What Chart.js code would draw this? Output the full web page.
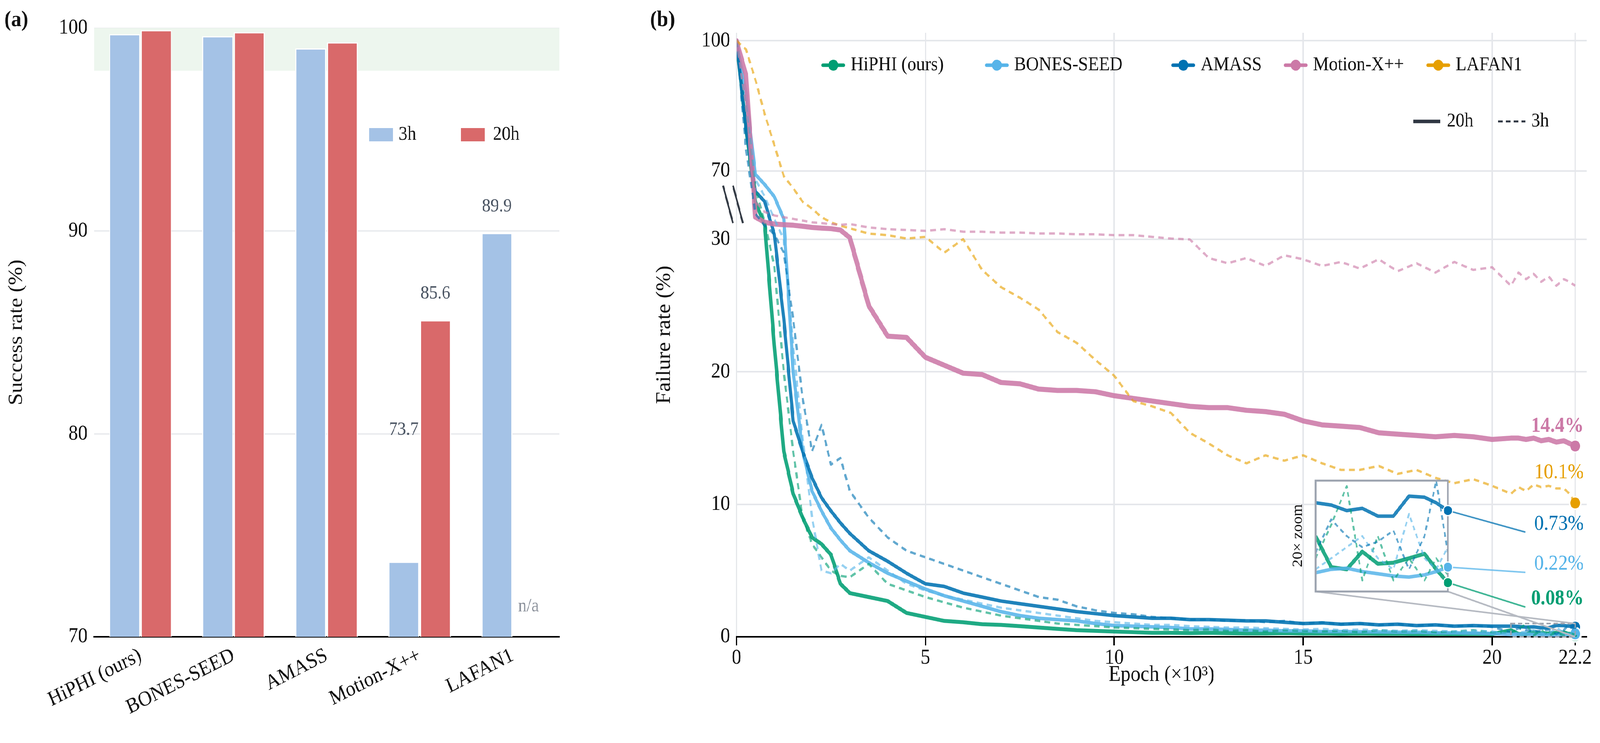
<!DOCTYPE html>
<html><head><meta charset="utf-8">
<script src="https://cdn.jsdelivr.net/npm/chart.js@4.4.1/dist/chart.umd.min.js"></script>
<style>
html,body{margin:0;padding:0;background:#fff;overflow:hidden}
#wrap{position:absolute;left:0;top:0;width:4512px;height:1903px;transform-origin:0 0}
.box{position:absolute;top:0}
</style></head><body>
<div id="wrap">
<div class="box" style="left:0;width:1640px;height:1903px"><canvas id="ca"></canvas></div>
<div class="box" style="left:1780px;width:2732px;height:1903px"><canvas id="cb"></canvas></div>
<div class="box" style="left:3680px;top:1201px;width:433px;height:344px"><canvas id="ci"></canvas></div>
</div>
<script>
(function(){const w=document.getElementById('wrap');
  const sx=window.innerWidth/4512, sy=window.innerHeight/1903;
  w.style.transform=`scale(${sx},${sy})`;})();

// ---------- Panel (a) data ----------
const datasetsA = ["HiPHI (ours)","BONES-SEED","AMASS","Motion-X++","LAFAN1"];
const success3h  = [99.7, 99.6, 99.0, 73.7, 89.9];
const success20h = [99.9, 99.8, 99.3, 85.6, null];
const yTicksA = [70, 80, 90, 100];

// ---------- Panel (b) data ----------
const epochs = [0,.25,.5,.75,1,1.25,1.5,1.75,2,2.25,2.5,2.75,3,3.5,4,4.5,5,5.5,6,6.5,7,7.5,8,8.5,9,9.5,10,10.5,11,11.5,12,12.5,13,13.5,14,14.5,15,15.5,16,16.5,17,17.5,18,18.5,19,19.5,20,20.5,20.7,20.9,21.1,21.3,21.5,21.7,21.9,22.05,22.2];
const hiphi20 = [100,80,52,38,22,14,10.8,9,7.5,7,6.2,4,3.3,3.0,2.7,1.8,1.5,1.2,1.1,0.95,0.9,0.8,0.7,0.6,0.5,0.45,0.4,0.35,0.3,0.3,0.28,0.3,0.27,0.25,0.25,0.27,0.24,0.25,0.22,0.24,0.22,0.23,0.2,0.22,0.2,0.22,0.2,0.5,0.22,0.2,0.36,0.25,0.26,0.3,0.34,0.2,0.08];
const hiphi3 = [100,85,60,40,28,20,14,9,7,6,5,4.6,4.5,5.5,4,3.5,3,2.6,2.2,1.9,1.6,1.4,1.2,1.0,0.9,0.8,0.7,0.65,0.6,0.55,0.5,0.55,0.45,0.5,0.4,0.5,0.45,0.4,0.45,0.35,0.5,0.4,0.45,0.35,0.4,0.5,0.35,0.3,0.6,0.95,0.1,0.5,0.1,0.3,0.1,0.3,0.15];
const bones20 = [100,88,68,62,55,42,20,14,11,9.5,8.2,7.3,6.5,5.6,4.8,4.2,3.6,3.1,2.7,2.3,1.9,1.6,1.4,1.3,1.2,1.0,0.85,0.8,0.75,0.7,0.6,0.6,0.55,0.5,0.5,0.45,0.45,0.4,0.4,0.38,0.37,0.35,0.35,0.3,0.3,0.28,0.25,0.17,0.2,0.21,0.18,0.16,0.14,0.13,0.15,0.18,0.22];
const bones3 = [100,85,65,55,42,30,22,15,9,5,4.8,5.5,5,6,5,4,3.5,3.1,2.8,2.5,2.2,2.0,1.8,1.6,1.4,1.2,1.1,1.0,0.9,0.9,0.8,0.75,0.7,0.7,0.65,0.6,0.55,0.6,0.5,0.55,0.5,0.45,0.5,0.45,0.4,0.45,0.4,0.2,0.3,0.4,0.5,0.3,0.2,0.7,0.3,0.2,0.4];
const amass20 = [100,80,58,52,33,24,16.3,14,12,10.5,9.5,8.6,7.8,6.5,5.7,4.8,4,3.8,3.3,3.0,2.7,2.5,2.3,2.1,1.9,1.75,1.6,1.5,1.4,1.4,1.3,1.3,1.25,1.2,1.2,1.1,1.0,1.05,0.95,1.0,0.9,0.95,0.85,0.9,0.8,0.85,0.8,0.8,0.78,0.73,0.75,0.68,0.68,0.86,0.85,0.8,0.73];
const amass3 = [100,75,45,38,33,29,24,18,14,16,13,13.5,11,9,7.5,6.5,6,5.5,5,4.5,4,3.5,3,2.8,2.3,2,1.8,1.7,1.5,1.4,1.3,1.3,1.2,1.25,1.1,1.2,1.0,1.1,0.95,1.0,0.9,0.95,0.85,0.9,0.8,0.85,0.75,0.35,0.65,0.5,0.4,0.45,0.55,0.2,0.5,1.0,0.35];
const motionx20 = [100,92,43,40,39,38.6,38.3,37.7,37,36.6,36.3,35.5,31,25,22.7,22.6,21.1,20.5,19.9,19.8,19.2,19.1,18.7,18.6,18.6,18.5,18.2,18.0,17.8,17.6,17.4,17.3,17.3,17.1,17.0,16.8,16.3,16.0,15.9,15.8,15.4,15.3,15.2,15.1,15.2,15.1,14.9,15.0,15.0,14.9,15.0,14.8,14.9,14.7,14.8,14.6,14.4];
const motionx3 = [100,85,52,46,44,43,42,41,40,39.5,39,38.5,39,37,36,35.5,35,36,34.5,34.5,34,34,33.5,33.5,33,33,32.5,32.5,31.5,30.5,30,28.6,28.2,28.6,28,28.8,28.5,28,28.3,27.8,28.5,27.6,28.2,27.5,28.3,27.7,27.9,26.5,27.5,27,27.4,26.8,27.2,26.5,27,26.8,26.5];
const lafan3 = [100,98,91,83,76,67,60,52,48,43,40,38,36.5,33.4,32.5,30.5,31.5,29,30.2,27.7,26.4,25.6,24.7,23,22.2,20.9,19.7,17.8,17.4,16.9,15.4,14.6,13.7,13.1,13.7,13.3,13.7,13.1,12.6,12.6,12.9,12.3,12.6,12.0,11.6,11.9,11.4,10.8,11.3,11.0,11.5,11.3,11.4,11.2,11.2,10.8,10.1];
const yTicksB = [0, 10, 20, 30, 70, 100];
const xTicksB = [0, 5, 10, 15, 20, 22.2];
const seriesNames = ["HiPHI (ours)","BONES-SEED","AMASS","Motion-X++","LAFAN1"];
const endLabels = ["0.08%","0.22%","0.73%","14.4%","10.1%"];

const C = {hiphi:'#009e73', bones:'#56b4e9', amass:'#0072b2', mx:'#cc79a7', lafan:'#e69f00'};
const FONT = '"Liberation Serif", "DejaVu Serif", serif';
function rgba(hex,a){const n=parseInt(hex.slice(1),16);return `rgba(${n>>16},${(n>>8)&255},${n&255},${a})`;}
const f = v => v<=30 ? v : v<=70 ? 30+(v-30)*0.1292 : 35.17+(v-70)*0.3277;

// ================= Panel (a) =================
const pluginA = {
  id:'pa',
  beforeDatasetsDraw(ch){
    const {ctx, chartArea:a, scales:{y}} = ch;
    ctx.save(); ctx.fillStyle='#edf6ee';
    ctx.fillRect(a.left, y.getPixelForValue(100), a.right-a.left, y.getPixelForValue(97.9)-y.getPixelForValue(100));
    ctx.restore();
  },
  afterDraw(ch){
    const {ctx, scales:{x,y}} = ch;
    ctx.save();
    ctx.font = `bold 58px ${FONT}`; ctx.fillStyle='#111'; ctx.textBaseline='middle'; ctx.textAlign='left';
    ctx.fillText('(a)', 12, 52);
    ctx.font = `48px ${FONT}`; ctx.fillStyle='#4b5563'; ctx.textAlign='center';
    [[0,success3h],[1,success20h]].forEach(([di,arr])=>{
      const meta = ch.getDatasetMeta(di);
      arr.forEach((v,i)=>{
        if(v===null){
          ctx.fillStyle='#8a909a';
          ctx.fillText('n/a', meta.data[i].x, y.getPixelForValue(71.5));
          ctx.fillStyle='#4b5563';
        } else if(v<95){
          ctx.fillText(v.toFixed(1), meta.data[i].x, y.getPixelForValue(Math.max(v,78.9)+1.3));
        }
      });
    });
    const ly=345;
    ctx.fillStyle='#a4c2e6'; ctx.fillRect(1041, ly-17, 67, 34);
    ctx.fillStyle='#d9696a'; ctx.fillRect(1300, ly-17, 67, 34);
    ctx.fillStyle='#111'; ctx.font=`50px ${FONT}`; ctx.textAlign='left';
    ctx.fillText('3h', 1124, ly); ctx.fillText('20h', 1390, ly);
    ctx.restore();
  }
};
new Chart(document.getElementById('ca'), {
  type:'bar',
  data:{labels:datasetsA, datasets:[
    {label:'3h', data:success3h, backgroundColor:'#a4c2e6', borderColor:'#fff', borderWidth:3, borderSkipped:false, categoryPercentage:0.68, barPercentage:0.98},
    {label:'20h', data:success20h, backgroundColor:'#d9696a', borderColor:'#fff', borderWidth:3, borderSkipped:false, categoryPercentage:0.68, barPercentage:0.98}
  ]},
  options:{
    responsive:true, maintainAspectRatio:false, animation:false,
    layout:{padding:{left:10, top:72, right:63, bottom:10}},
    plugins:{legend:{display:false}, tooltip:{enabled:false}},
    scales:{
      x:{grid:{display:false}, border:{color:'#000', width:4},
         ticks:{color:'#111', font:{family:FONT, size:54}, maxRotation:25, minRotation:25, padding:8},
         afterFit(s){ s.height = 262; }},
      y:{min:70, max:100, afterBuildTicks(s){ s.ticks = yTicksA.map(v=>({value:v})); },
         grid:{color:'#e5e7eb', lineWidth:3, drawTicks:false}, border:{display:false},
         ticks:{color:'#111', font:{family:FONT, size:54}, padding:18},
         title:{display:true, text:'Success rate (%)', color:'#111', font:{family:FONT, size:56}, padding:4},
         afterFit(s){ s.width = 255; }}
    }
  },
  plugins:[pluginA]
});

// ================= Panel (b) =================
const pts = arr => epochs.map((e,i)=>({x:e, y:f(arr[i])}));
function lineDs(arr,color,solid,w){
  return {data:pts(arr), borderColor: rgba(color, solid?0.88:0.62), borderWidth:w, borderDash: solid?[]:[16,12],
    pointRadius:0, fill:false, tension:0, borderCapStyle: solid?'round':'butt', borderJoinStyle:'round'};
}
function marker(v,color,r){ return {type:'scatter', data:[{x:22.2,y:f(v)}], pointRadius:r, pointBackgroundColor:color, pointBorderColor:'#fff', pointBorderWidth:4, clip:false}; }
const finals = {hiphi:hiphi20[hiphi20.length-1], bones:bones20[bones20.length-1], amass:amass20[amass20.length-1], mx:motionx20[motionx20.length-1], lafan:lafan3[lafan3.length-1]};
const CB_LEFT = 1780;
const INSET = {l:3710, t:1231, r:4083, b:1515};

const pluginB = {
  id:'pb',
  afterDraw(ch){
    const {ctx, chartArea:a, scales:{x,y}} = ch;
    ctx.save();
    ctx.font = `bold 58px ${FONT}`; ctx.fillStyle='#111'; ctx.textBaseline='middle'; ctx.textAlign='left';
    ctx.fillText('(b)', 1833-CB_LEFT, 52);
    const x0 = x.getPixelForValue(0), ym = (y.getPixelForValue(30)+y.getPixelForValue(f(70)))/2;
    ctx.strokeStyle='#333a44'; ctx.lineWidth=5;
    ctx.beginPath(); ctx.moveTo(x0-38, ym-50); ctx.lineTo(x0-10, ym+46); ctx.stroke();
    ctx.beginPath(); ctx.moveTo(x0-10, ym-50); ctx.lineTo(x0+18, ym+46); ctx.stroke();
    const rx1=x.getPixelForValue(20.5), rx2=x.getPixelForValue(22.2), ry1=y.getPixelForValue(1.0), ry2=y.getPixelForValue(0);
    ctx.strokeStyle='#9ca3af'; ctx.lineWidth=4; ctx.setLineDash([12,8]);
    ctx.strokeRect(rx1, ry1, rx2-rx1, ry2-ry1); ctx.setLineDash([]);
    ctx.strokeStyle='#b6bac2'; ctx.lineWidth=4;
    ctx.beginPath(); ctx.moveTo(INSET.l-CB_LEFT, INSET.b); ctx.lineTo(rx2, ry1); ctx.stroke();
    ctx.beginPath(); ctx.moveTo(INSET.r-CB_LEFT, INSET.b); ctx.lineTo(rx2, ry2); ctx.stroke();
    const ih = INSET.b-INSET.t;
    const lead = [[finals.amass, C.amass, 1363],[finals.bones, C.bones, 1466],[finals.hiphi, C.hiphi, 1555]];
    ctx.lineWidth=4;
    lead.forEach(([v,c,ly])=>{
      ctx.strokeStyle=rgba(c,0.75);
      ctx.beginPath(); ctx.moveTo(INSET.r-CB_LEFT, INSET.b - v*ih); ctx.lineTo(4302-CB_LEFT, ly); ctx.stroke();
    });
    const rxT = 4466-CB_LEFT;
    ctx.textAlign='right';
    ctx.font=`bold 54px ${FONT}`; ctx.fillStyle=C.mx; ctx.fillText(endLabels[3], rxT, y.getPixelForValue(f(finals.mx))-50);
    ctx.font=`54px ${FONT}`; ctx.fillStyle=C.lafan; ctx.fillText(endLabels[4], rxT, y.getPixelForValue(f(finals.lafan))-78);
    ctx.fillStyle=C.amass; ctx.fillText(endLabels[2], rxT, 1343);
    ctx.fillStyle=C.bones; ctx.fillText(endLabels[1], rxT, 1445);
    ctx.font=`bold 54px ${FONT}`; ctx.fillStyle=C.hiphi; ctx.fillText(endLabels[0], rxT, 1534);
    ctx.save(); ctx.translate(3660-CB_LEFT, 1372); ctx.rotate(-Math.PI/2);
    ctx.textAlign='center'; ctx.font=`40px ${FONT}`; ctx.fillStyle='#111'; ctx.fillText('20× zoom', 0, 0); ctx.restore();
    const ly=167; const items=[[2321,C.hiphi],[2782,C.bones],[3308,C.amass],[3625,C.mx],[4027,C.lafan]];
    ctx.textAlign='left'; ctx.font=`50px ${FONT}`;
    items.forEach(([px,c],i)=>{
      const lx=px-CB_LEFT;
      ctx.strokeStyle=c; ctx.lineWidth=9; ctx.lineCap='round';
      ctx.beginPath(); ctx.moveTo(lx, ly); ctx.lineTo(lx+58, ly); ctx.stroke();
      ctx.fillStyle=c; ctx.beginPath(); ctx.arc(lx+29, ly, 14, 0, Math.PI*2); ctx.fill();
      ctx.fillStyle='#111'; ctx.fillText(seriesNames[i], lx+78, ly);
    });
    const l2=311;
    ctx.strokeStyle='#2f3642'; ctx.lineWidth=9; ctx.lineCap='butt';
    ctx.beginPath(); ctx.moveTo(3985-CB_LEFT, l2); ctx.lineTo(4062-CB_LEFT, l2); ctx.stroke();
    ctx.lineWidth=5; ctx.setLineDash([13,9]);
    ctx.beginPath(); ctx.moveTo(4225-CB_LEFT, l2); ctx.lineTo(4302-CB_LEFT, l2); ctx.stroke(); ctx.setLineDash([]);
    ctx.fillStyle='#111'; ctx.fillText('20h', 4080-CB_LEFT, l2); ctx.fillText('3h', 4318-CB_LEFT, l2);
    ctx.restore();
  }
};

new Chart(document.getElementById('cb'), {
  type:'line',
  data:{datasets:[
    lineDs(motionx3, C.mx, false, 6), lineDs(lafan3, C.lafan, false, 6),
    lineDs(amass3, C.amass, false, 6), lineDs(bones3, C.bones, false, 6), lineDs(hiphi3, C.hiphi, false, 6),
    lineDs(motionx20, C.mx, true, 13), lineDs(amass20, C.amass, true, 9), lineDs(bones20, C.bones, true, 9), lineDs(hiphi20, C.hiphi, true, 10),
    marker(finals.mx, C.mx, 16), marker(finals.lafan, C.lafan, 16), marker(finals.bones, C.bones, 16), marker(finals.hiphi, C.hiphi, 16), marker(finals.amass, C.amass, 16)
  ]},
  options:{
    responsive:true, maintainAspectRatio:false, animation:false,
    layout:{padding:{left:57, top:84, right:38, bottom:136}},
    plugins:{legend:{display:false}, tooltip:{enabled:false}},
    scales:{
      x:{type:'linear', min:0, max:22.5, afterBuildTicks(s){ s.ticks = xTicksB.map(v=>({value:v})); },
         grid:{color:'#e5e7eb', lineWidth:4, tickColor:'#000', tickLength:22, tickWidth:4}, border:{color:'#000', width:4},
         ticks:{color:'#111', font:{family:FONT, size:54}, padding:0, callback:v=>String(v)},
         title:{display:true, text:'Epoch (×10³)', color:'#111', font:{family:FONT, size:56}, padding:4},
         afterFit(s){ s.height = 136; }},
      y:{type:'linear', min:0, max:45.6, afterBuildTicks(s){ s.ticks = yTicksB.map(v=>({value:f(v)})); },
         grid:{color:'#e5e7eb', lineWidth:4, drawTicks:false}, border:{display:false},
         ticks:{color:'#111', font:{family:FONT, size:54}, padding:18, callback:(v,i)=>String(yTicksB[i])},
         title:{display:true, text:'Failure rate (%)', color:'#111', font:{family:FONT, size:56}, padding:4},
         afterFit(s){ s.width = 240; }}
    }
  },
  plugins:[pluginB]
});

// ================= Inset =================
const START = epochs.indexOf(20.5);
const ipts = arr => epochs.slice(START).map((e,i)=>({x:e, y:arr[START+i]}));
function iDs(arr,color,solid,w){ return {data:ipts(arr), borderColor: rgba(color, solid?0.85:0.62), borderWidth:w, borderDash: solid?[]:[12,10], pointRadius:0, tension:0, borderJoinStyle:'round'}; }
function iMk(v,color){ return {type:'scatter', data:[{x:22.2,y:v}], pointRadius:13, pointBackgroundColor:color, pointBorderColor:'#fff', pointBorderWidth:3, clip:false}; }
new Chart(document.getElementById('ci'), {
  type:'line',
  data:{datasets:[
    iDs(amass3, C.amass, false, 5), iDs(bones3, C.bones, false, 5), iDs(hiphi3, C.hiphi, false, 5),
    iDs(bones20, C.bones, true, 9), iDs(amass20, C.amass, true, 9), iDs(hiphi20, C.hiphi, true, 10),
    iMk(finals.amass, C.amass), iMk(finals.bones, C.bones), iMk(finals.hiphi, C.hiphi)
  ]},
  options:{
    responsive:true, maintainAspectRatio:false, animation:false,
    layout:{padding:30},
    plugins:{legend:{display:false}, tooltip:{enabled:false}},
    scales:{x:{type:'linear', min:20.5, max:22.2, display:false}, y:{min:0, max:1.0, display:false}}
  },
  plugins:[{id:'ibox', beforeDraw(ch){ const {ctx,chartArea:a}=ch; ctx.save(); ctx.fillStyle='#fff'; ctx.fillRect(a.left,a.top,a.right-a.left,a.bottom-a.top); ctx.restore(); },
    afterDatasetsDraw(ch){ const {ctx,chartArea:a}=ch; ctx.save(); ctx.strokeStyle='#9ca3af'; ctx.lineWidth=5; ctx.strokeRect(a.left,a.top,a.right-a.left,a.bottom-a.top); ctx.restore();
      [6,7,8].forEach(i=>ch.getDatasetMeta(i).data.forEach(p=>p.draw(ctx)));
    }}]
});
</script>
</body></html>
